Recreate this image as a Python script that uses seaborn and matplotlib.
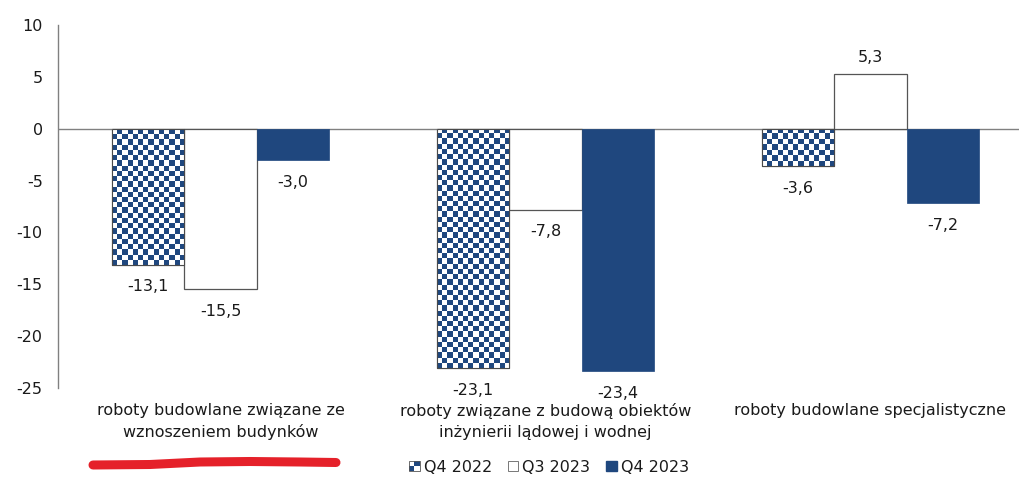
import numpy as np
import pandas as pd
import matplotlib
matplotlib.use("Agg")
import matplotlib.pyplot as plt
from matplotlib.colors import ListedColormap
from matplotlib.patches import Rectangle
from matplotlib.lines import Line2D
from matplotlib.legend_handler import HandlerBase
import seaborn as sns

categories = [
    "roboty budowlane związane ze\nwznoszeniem budynków",
    "roboty związane z budową obiektów\ninżynierii lądowej i wodnej",
    "roboty budowlane specjalistyczne",
]
periods = ["Q4 2022", "Q3 2023", "Q4 2023"]
q4_2022 = [-13.1, -23.1, -3.6]
q3_2023 = [-15.5, -7.8, 5.3]
q4_2023 = [-3.0, -23.4, -7.2]
y_ticks = [10, 5, 0, -5, -10, -15, -20, -25]

NAVY = "#1F477E"
GRID = "#808080"
TEXT = "#1a1a1a"
FS = 11.5

df = pd.DataFrame({
    "kategoria": categories * 3,
    "okres": [p for p in periods for _ in categories],
    "wartosc": q4_2022 + q3_2023 + q4_2023,
})

sns.set_theme(style="white")
plt.rcParams["font.family"] = ["DejaVu Sans"]

W, H, DPI = 1020, 482, 100
fig = plt.figure(figsize=(W / DPI, H / DPI), dpi=DPI)
ax = fig.add_axes([58 / W, 1 - 388 / H, 1 - 58 / W, (388 - 25) / H])

sns.barplot(
    data=df, x="kategoria", y="wartosc", hue="okres", hue_order=periods,
    palette=["white", "white", NAVY], saturation=1, width=0.67,
    legend=False, ax=ax, zorder=2,
)

ax.set_ylim(-25, 10)
ax.set_xlim(-0.5, -0.5 + (W - 58) / 325)
ax.set_yticks(y_ticks)
ax.set_yticklabels([str(t) for t in y_ticks], fontsize=FS)
ax.set_xlabel("")
ax.set_ylabel("")
ax.tick_params(axis="both", length=0)
ax.tick_params(axis="y", pad=11, colors=TEXT)
ax.tick_params(axis="x", pad=11, colors=TEXT)
for lab in ax.get_xticklabels():
    lab.set_fontsize(FS)
    lab.set_linespacing(1.45)
    lab.set_verticalalignment("top")

for s in ["top", "right", "bottom"]:
    ax.spines[s].set_visible(False)
ax.spines["left"].set_color(GRID)
ax.spines["left"].set_linewidth(1)
ax.axhline(0, color=GRID, lw=1, zorder=1)

fig.canvas.draw()

# bar styling: checkered, outlined white, solid navy
checker_cmap = ListedColormap(["white", NAVY])
cell_px = 5.2
for ci, cont in enumerate(ax.containers):
    for bar in cont.patches:
        if ci == 0:
            bar.set_facecolor("white")
            bar.set_edgecolor("#3a3a3a")
            bar.set_linewidth(0.8)
            x0, y0 = bar.get_x(), bar.get_y()
            x1, y1 = x0 + bar.get_width(), y0 + bar.get_height()
            p0 = ax.transData.transform((x0, min(y0, y1)))
            p1 = ax.transData.transform((x1, max(y0, y1)))
            nx = max(1, int(round((p1[0] - p0[0]) / cell_px)))
            ny = max(1, int(round((p1[1] - p0[1]) / cell_px)))
            grid = (np.add.outer(np.arange(ny), np.arange(nx)) % 2).astype(float)
            im = ax.imshow(
                grid, cmap=checker_cmap, interpolation="nearest",
                extent=[x0, x1, min(y0, y1), max(y0, y1)],
                aspect="auto", zorder=2.5, vmin=0, vmax=1,
            )
            im.set_clip_path(bar)
            edge = Rectangle((x0, y0), bar.get_width(), bar.get_height(),
                             fill=False, edgecolor="#4a4a4a", lw=0.8, zorder=3)
            ax.add_patch(edge)
        elif ci == 1:
            bar.set_facecolor("white")
            bar.set_edgecolor("#555555")
            bar.set_linewidth(0.9)
        else:
            bar.set_facecolor(NAVY)
            bar.set_edgecolor(NAVY)
            bar.set_linewidth(0.5)

        v = bar.get_height()
        xc = bar.get_x() + bar.get_width() / 2
        off = 12 if v > 0 else -16
        ax.annotate(
            f"{v:.1f}".replace(".", ","), (xc, v), xytext=(0, off),
            textcoords="offset points", ha="center", va="center",
            fontsize=FS, color=TEXT, zorder=4,
        )

ax.set_ylim(-25, 10)
ax.set_xlim(-0.5, -0.5 + (W - 58) / 325)


class CheckerHandler(HandlerBase):
    def create_artists(self, legend, orig_handle, xdescent, ydescent,
                       width, height, fontsize, trans):
        s = min(width, height)
        x0 = -xdescent + (width - s) / 2
        y0 = -ydescent + (height - s) / 2
        h = s / 2
        arts = []
        for i in range(2):
            for j in range(2):
                c = NAVY if (i + j) % 2 == 0 else "white"
                arts.append(Rectangle((x0 + i * h, y0 + j * h), h, h,
                                      facecolor=c, edgecolor="none", transform=trans))
        arts.append(Rectangle((x0, y0), s, s, fill=False, edgecolor="#555555",
                              lw=0.6, transform=trans))
        return arts


h_checker = Rectangle((0, 0), 1, 1)
h_white = Rectangle((0, 0), 1, 1, facecolor="white", edgecolor="#777777", lw=0.7)
h_navy = Rectangle((0, 0), 1, 1, facecolor=NAVY, edgecolor=NAVY)
fig.legend(
    [h_checker, h_white, h_navy], periods,
    handler_map={h_checker: CheckerHandler()},
    loc="center", bbox_to_anchor=(549 / W, 1 - 467 / H), ncol=3,
    frameon=False, fontsize=FS, handlelength=0.65, handleheight=0.65,
    handletextpad=0.25, columnspacing=1.0, labelcolor=TEXT,
)

# red hand-drawn underline beneath the first category
fig.add_artist(Line2D(
    np.array([93, 150, 200, 250, 300, 336]) / W,
    1 - np.array([465, 464.5, 462, 461.5, 462, 462.5]) / H,
    color="#E5212A", lw=6.5, solid_capstyle="round", solid_joinstyle="round",
    transform=fig.transFigure,
))

fig.savefig("out.png", dpi=DPI)
